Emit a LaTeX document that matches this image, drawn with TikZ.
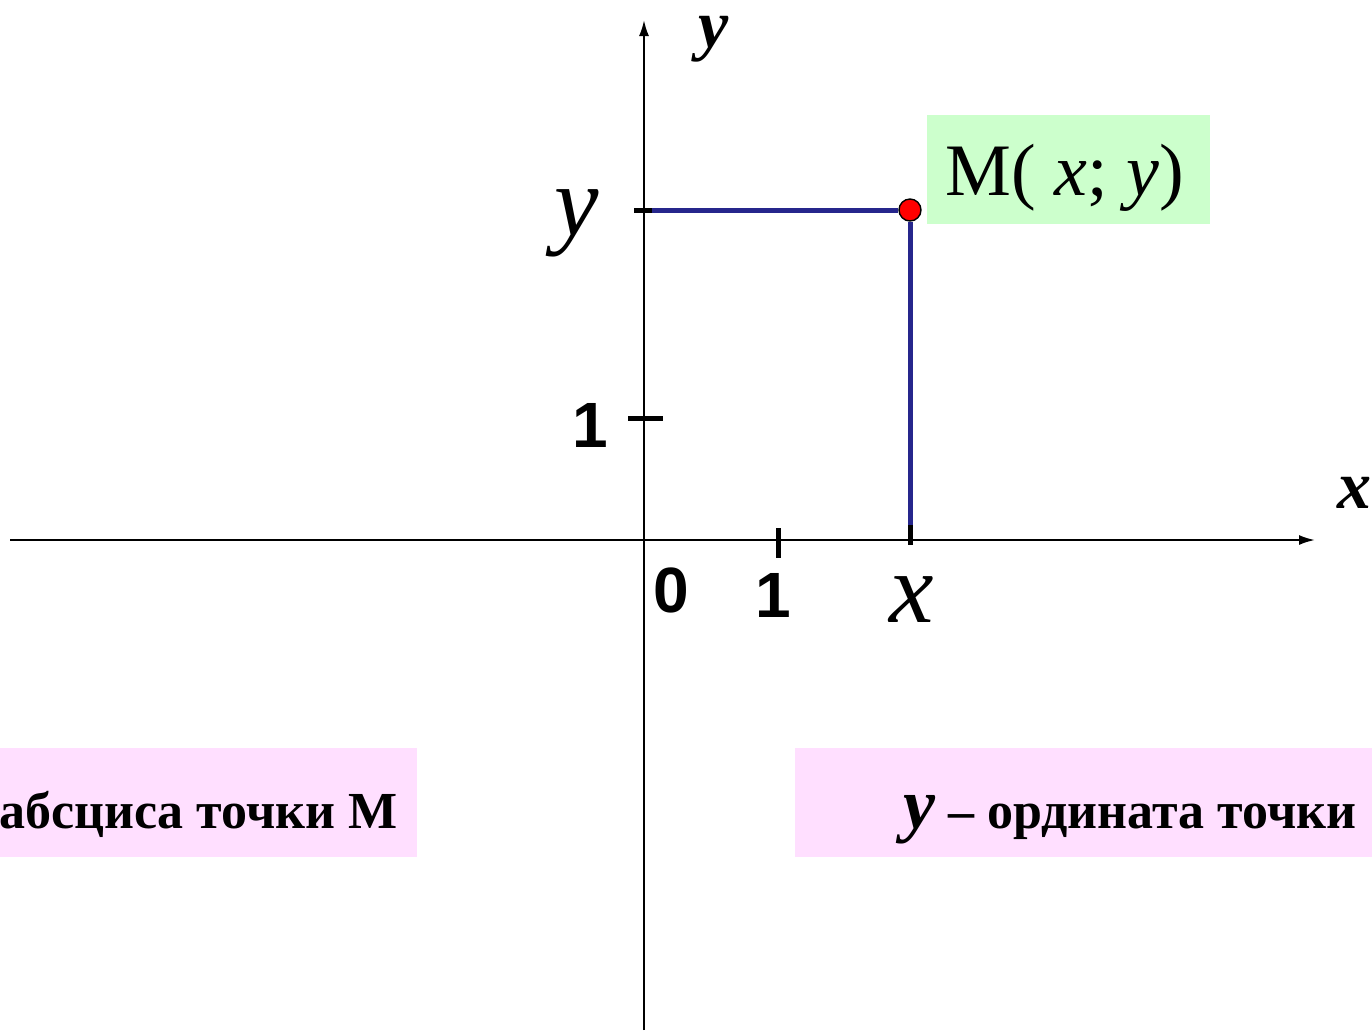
\documentclass[tikz,border=0pt]{standalone}
\usepackage{fontspec}
\setmainfont{Liberation Serif}
\newfontfamily\digitfont{Liberation Sans}
\usetikzlibrary{arrows.meta}
\definecolor{projblue}{RGB}{38,38,140}
\definecolor{greenbg}{RGB}{204,255,204}
\definecolor{pinkbg}{RGB}{255,223,255}
\begin{document}
\begin{tikzpicture}[x=0.5pt,y=-0.5pt,
  axisline/.style={line width=1pt,-{Latex[length=8pt,width=5pt]}},
  tickmark/.style={line width=2.5pt,black},
  projline/.style={line width=2.5pt,draw=projblue},
  numlab/.style={inner sep=0pt,anchor=base,font=\digitfont\bfseries\fontsize{32}{36}\selectfont},
  biglab/.style={inner sep=0pt,anchor=base,font=\itshape\fontsize{50}{56}\selectfont},
  axislab/.style={inner sep=0pt,font=\bfseries\itshape\fontsize{34}{38}\selectfont},
  captext/.style={inner sep=0pt,font=\bfseries\fontsize{26}{30}\selectfont}]
\useasboundingbox (0,0) rectangle (1372,1030);
\clip (0,0) rectangle (1372,1030);
% background boxes
\fill[greenbg] (927,115) rectangle (1210,224);
\fill[pinkbg] (0,748) rectangle (417,857);
\fill[pinkbg] (795,748) rectangle (1372,857);
% axes
\coordinate (xstart) at (10,540);
\coordinate (xend) at (1315,540);
\coordinate (ystart) at (644,1030);
\coordinate (yend) at (644,20);
\draw[axisline] (xstart) -- (xend);
\draw[axisline] (ystart) -- (yend);
% ticks
\coordinate (ty1a) at (628,418); \coordinate (ty1b) at (663,418);
\coordinate (tx1a) at (778,528); \coordinate (tx1b) at (778,558);
\coordinate (tyya) at (634,210); \coordinate (tyyb) at (652,210);
\coordinate (txxa) at (910,525); \coordinate (txxb) at (910,545);
\draw[tickmark] (ty1a) -- (ty1b);
\draw[tickmark] (tx1a) -- (tx1b);
\draw[tickmark] (tyya) -- (tyyb);
\draw[tickmark] (txxa) -- (txxb);
% point and projections
\node[circle,fill=red,draw=black,line width=0.7pt,minimum size=11pt,inner sep=0pt] (M) at (910,210) {};
\draw[projline] (tyyb) -- (M.west);
\draw[projline] (M.south) -- (txxa);
% labels
\node[axislab,anchor=base] (ylab) at (714,47) {y};
\node[axislab,anchor=base west] (xlab) at (1337,508) {x};
\node[numlab] (zero) at (671,612) {0};
\node[numlab] (onex) at (773,617) {1};
\node[numlab] (oney) at (590,447) {1};
\node[biglab] (yval) at (577,235) {y};
\node[biglab] (xval) at (912,622) {x};
\node[inner sep=0pt,anchor=base west,font=\fontsize{37}{41}\selectfont] (Mlab) at (945,195) {M( \textit{x}; \textit{y})};
\node[captext,anchor=base east] (abs) at (398,828) {абсциса точки М};
\node[captext,anchor=base west] (ord) at (903,828) {{\itshape\fontsize{36}{40}\selectfont y} – ордината точки};
\end{tikzpicture}
\end{document}
